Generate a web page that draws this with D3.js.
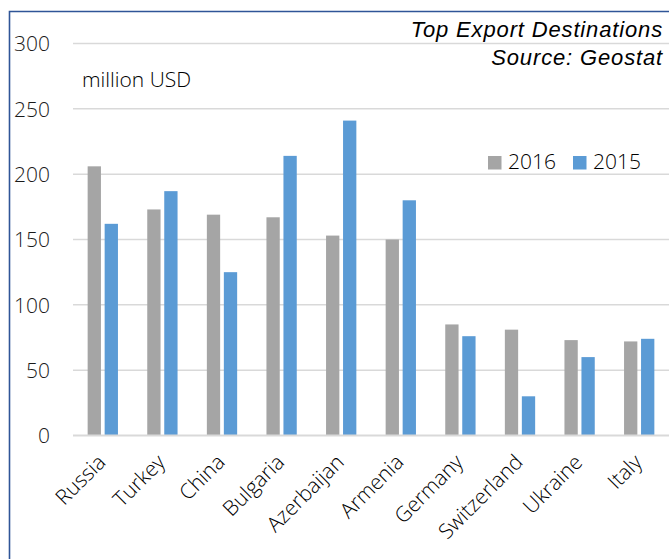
<!DOCTYPE html>
<html><head><meta charset="utf-8">
<script src="https://cdn.jsdelivr.net/npm/d3@7"></script>
<style>
html,body{margin:0;padding:0;background:#fff;}
svg{display:block;}
</style></head>
<body>
<svg id="chart" width="669" height="559"></svg>
<script>
const categories = ["Russia","Turkey","China","Bulgaria","Azerbaijan","Armenia","Germany","Switzerland","Ukraine","Italy"];
const series = ["2016","2015"];
const values2016 = [206,173,169,167,153,150,85,81,73,72];
const values2015 = [162,187,125,214,241,180,76,30,60,74];
const yTicks = [0,50,100,150,200,250,300];
const colors = ["#A5A5A5","#5B9BD5"];

const svg = d3.select("#chart");
const W = 669, H = 559;
const m = {left:73, right:0, top:43.5, bottom:123.5};
const font = "'Open Sans', 'Segoe UI', sans-serif";
const textColor = "#1a1a1a";

// frame
svg.append("path").attr("d",`M9.5,${H+2} L9.5,11.5 L${W+2},11.5`)
  .attr("fill","none").attr("stroke","#2F5597").attr("stroke-width",1.6);

const x = d3.scaleBand().domain(categories).range([m.left, W - m.right]).paddingInner(0).paddingOuter(0);
const y = d3.scaleLinear().domain([0,300]).range([H - m.bottom, m.top]);

// gridlines
svg.append("g").selectAll("line").data(yTicks.filter(d=>d>0)).join("line")
  .attr("x1",m.left).attr("x2",W).attr("y1",d=>y(d)).attr("y2",d=>y(d))
  .attr("stroke","#D9D9D9").attr("stroke-width",1.5);

// y axis labels
const yAxis = d3.axisLeft(y).tickValues(yTicks).tickSize(0).tickPadding(0);
const gy = svg.append("g").attr("transform",`translate(50,0)`).call(yAxis);
gy.select(".domain").remove();
gy.selectAll("text").attr("font-family",font).attr("font-weight",300).attr("font-size",21).attr("fill",textColor).attr("dy","0.35em");

// bars
const barW = 13.3, gap = 3.7;
const data = categories.map((c,i)=>({c, v:[values2016[i], values2015[i]]}));
const groups = svg.append("g").selectAll("g").data(data).join("g")
  .attr("transform",d=>`translate(${x(d.c)+x.bandwidth()/2},0)`);
groups.selectAll("rect").data(d=>d.v.map((v,j)=>({v,j}))).join("rect")
  .attr("x",d=> d.j===0 ? -(barW+gap/2) : gap/2)
  .attr("width",barW)
  .attr("y",d=>y(d.v)).attr("height",d=>y(0)-y(d.v))
  .attr("fill",d=>colors[d.j]);

// x axis line
svg.append("line").attr("x1",m.left).attr("x2",W).attr("y1",y(0)).attr("y2",y(0))
  .attr("stroke","#D9D9D9").attr("stroke-width",2);

// x labels
const xAxis = d3.axisBottom(x).tickSize(0).tickPadding(0);
const gx = svg.append("g").attr("transform",`translate(0,${y(0)})`).call(xAxis);
gx.select(".domain").remove();
gx.selectAll("text")
  .attr("font-family",font).attr("font-weight",300).attr("font-size",21).attr("fill","#000")
  .attr("text-anchor","end").attr("dy",null).attr("y",null)
  .attr("transform","translate(4,28) rotate(-45)");

// unit label
svg.append("text").attr("x",82).attr("y",87).text("million USD")
  .attr("font-family",font).attr("font-weight",300).attr("font-size",21).attr("fill","#000");

// title
svg.append("text").attr("x",663).attr("y",37).attr("text-anchor","end").text("Top Export Destinations")
  .attr("font-family","'Liberation Sans', Arial, sans-serif").attr("font-style","italic").attr("font-size",22)
  .attr("letter-spacing","0.85px").attr("fill","#000");
svg.append("text").attr("x",663).attr("y",65).attr("text-anchor","end").text("Source: Geostat")
  .attr("font-family","'Liberation Sans', Arial, sans-serif").attr("font-style","italic").attr("font-size",22)
  .attr("letter-spacing","0.85px").attr("fill","#000");

// legend
const legX = [488, 573];
const leg = svg.append("g").selectAll("g").data(series).join("g")
  .attr("transform",(d,i)=>`translate(${legX[i]},156)`);
leg.append("rect").attr("width",13.5).attr("height",13.5).attr("fill",(d,i)=>colors[i]);
leg.append("text").attr("x",20).attr("y",12.5).text(d=>d)
  .attr("font-family",font).attr("font-weight",300).attr("font-size",21).attr("fill","#000");
</script>
</body></html>
